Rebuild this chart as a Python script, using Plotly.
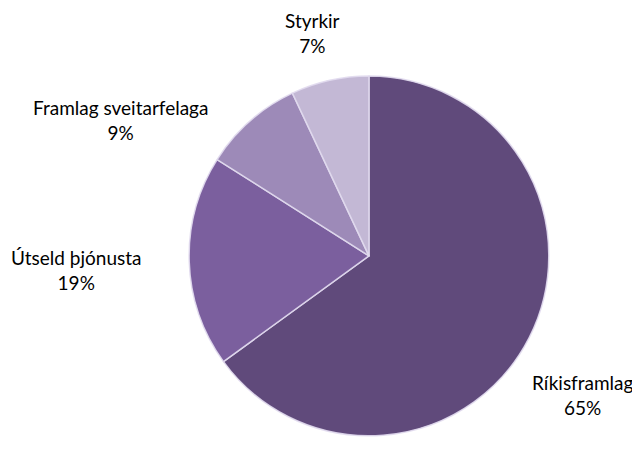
import plotly.graph_objects as go

labels = ["Ríkisframlag", "Útseld þjónusta", "Framlag sveitarfelaga", "Styrkir"]
values = [65, 19, 9, 7]
colors = ["#604a7b", "#7b5f9e", "#9d8ab8", "#c3b8d5"]

# label anchor positions in paper coords (x, y) for each category
label_pos = [(0.898, 0.166), (0.106, 0.435), (0.175, 0.759), (0.475, 0.947)]

fig = go.Figure(go.Pie(
    labels=labels, values=values, sort=False, direction="clockwise", rotation=0,
    marker=dict(colors=colors, line=dict(color="rgba(225,218,238,0.9)", width=1.5)),
    textinfo="none", hoverinfo="label+percent", showlegend=False,
    domain=dict(x=[0.283, 0.845], y=[0.0754, 0.856]),
))

anns = []
for lab, val, (x, y) in zip(labels, values, label_pos):
    anns.append(dict(x=x, y=y, xref="paper", yref="paper", showarrow=False,
                     xanchor="center", yanchor="middle",
                     text=f"{lab}<br>{val}%", align="center",
                     font=dict(family="Lato", size=19, color="#000000")))

fig.update_layout(width=640, height=464, margin=dict(l=0, r=0, t=0, b=0),
                  paper_bgcolor="white", plot_bgcolor="white", annotations=anns)
fig.write_html("out.html")
